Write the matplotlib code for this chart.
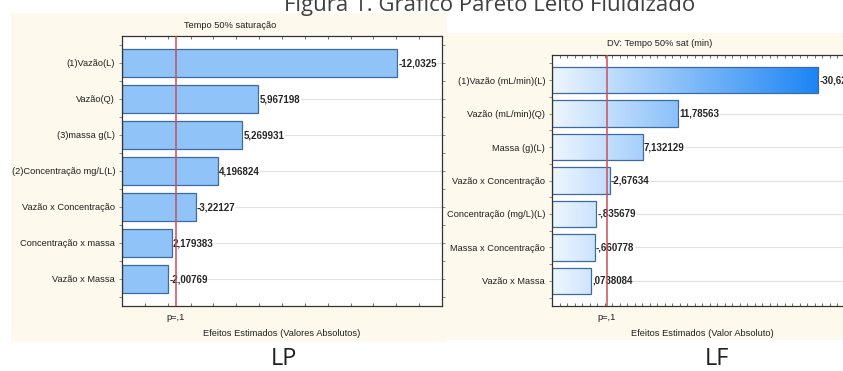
import numpy as np
import matplotlib
matplotlib.use("Agg")
import matplotlib.pyplot as plt
from matplotlib.patches import Rectangle
from matplotlib.colors import LinearSegmentedColormap
from matplotlib.ticker import MultipleLocator

# ---- data (LP and LF pareto charts) ----
lp_labels = ["(1)Vazão(L)", "Vazão(Q)", "(3)massa g(L)", "(2)Concentração mg/L(L)",
             "Vazão x Concentração", "Concentração x massa", "Vazão x Massa"]
lp_values = [12.0325, 5.967198, 5.269931, 4.196824, 3.22127, 2.179383, 2.00769]
lp_text = ["-12,0325", "5,967198", "5,269931", "4,196824", "-3,22127", "2,179383", "-2,00769"]
lp_pline = 2.353

lf_labels = ["(1)Vazão (mL/min)(L)", "Vazão (mL/min)(Q)", "Massa (g)(L)", "Vazão x Concentração",
             "Concentração (mg/L)(L)", "Massa x Concentração", "Vazão x Massa"]
lf_values = [35.5, 16.8, 12.1, 7.7, 5.9, 5.7, 5.2]
lf_text = ["-30,62", "11,78563", "7,132129", "-2,67634", "-,835679", "-,660778", ",0738084"]
lf_pline = 7.33

W, H = 843, 371
fig = plt.figure(figsize=(W / 100, H / 100), dpi=100)
fig.patch.set_facecolor("white")

cream = "#fdf9ec"
font = "Liberation Sans"
small = 6.7


def box(x0, y0, x1, y1):
    # pixel box (top-left origin) -> figure fraction rect
    return [x0 / W, 1 - y1 / H, (x1 - x0) / W, (y1 - y0) / H]


def px(x, y):
    return x / W, 1 - y / H


# cream panels behind the two statistica graphs
for b in [box(11, 13, 447, 342), box(447, 33, 900, 340)]:
    fig.patches.append(Rectangle((b[0], b[1]), b[2], b[3], transform=fig.transFigure,
                                 facecolor=cream, edgecolor="none", zorder=-10))


def pareto(ax, labels, values, texts, pline, xmax, bar_color=None, grad=None):
    n = len(labels)
    y = np.arange(n)
    ax.set_facecolor("white")
    for yy in y:
        ax.axhline(yy, color="#e0e0e0", lw=0.8, zorder=0)
    bars = ax.barh(y, values, height=0.8, color=bar_color if bar_color else "none",
                   edgecolor="#3d6aa3", linewidth=0.9, zorder=2)
    if grad is not None:
        cmap, gmax = grad
        g = np.linspace(0, 1, 256).reshape(1, -1)
        for b in bars:
            im = ax.imshow(g, extent=[0, gmax, b.get_y(), b.get_y() + b.get_height()],
                           aspect="auto", cmap=cmap, zorder=1.5, interpolation="bilinear")
            im.set_clip_path(b)
    for yy, v, t in zip(y, values, texts):
        ax.text(v + xmax * 0.004, yy, t, va="center", ha="left", fontsize=7,
                family=font, color="#252525", fontweight="bold", zorder=4,
                bbox=dict(facecolor="white", edgecolor="none", pad=0.3))
    ax.axvline(pline, color="#c8505a", lw=1.1, zorder=5)
    ax.set_xlim(0, xmax)
    ax.set_ylim(n - 0.25, -0.75)
    ax.set_yticks(y)
    ax.set_yticklabels(labels, fontsize=small, family=font, color="#202020")
    ax.yaxis.set_minor_locator(MultipleLocator(0.5))
    ax.set_xticks([pline])
    ax.set_xticklabels(["p=,1"], fontsize=small, family=font, color="#202020")
    ax.xaxis.set_minor_locator(MultipleLocator(1))
    ax.tick_params(axis="x", which="both", direction="in", top=True, length=2.5,
                   width=0.6, color="#555555", pad=5)
    ax.tick_params(axis="x", which="major", length=0)
    ax.tick_params(axis="y", which="both", direction="out", right=True, length=2,
                   width=0.6, color="#777777", pad=3)
    for s in ax.spines.values():
        s.set_color("#333333")
        s.set_linewidth(0.9)


# left graph (LP)
ax1 = fig.add_axes(box(122, 36, 442, 306))
pareto(ax1, lp_labels, lp_values, lp_text, lp_pline, 14, bar_color="#90c3f8")

# right graph (LF) - gradient bars
cm = LinearSegmentedColormap.from_list("lf", ["#eef6fe", "#1b84f4"])
ax2 = fig.add_axes(box(552, 55, 852, 306))
pareto(ax2, lf_labels, lf_values, lf_text, lf_pline, 40, grad=(cm, 35.5))

# graph titles and axis titles (statistica puts them inside the panel)
fig.text(*px(230, 25), "Tempo 50% saturação", ha="center", va="center",
         fontsize=small, family=font, color="#202020")
fig.text(*px(660, 43), "DV: Tempo 50% sat (min)", ha="center", va="center",
         fontsize=small, family=font, color="#202020")
fig.text(*px(282, 333), "Efeitos Estimados (Valores Absolutos)", ha="center", va="center",
         fontsize=small, family=font, color="#202020")
fig.text(*px(702, 333), "Efeitos Estimados (Valor Absoluto)", ha="center", va="center",
         fontsize=small, family=font, color="#202020")

# figure caption, cut at top edge of the screenshot
fig.text(*px(490, 11), "Figura 1. Gráfico Pareto Leito Fluidizado", ha="center",
         va="baseline", fontsize=16, family="Open Sans", color="#404040")

fig.text(*px(284, 359), "LP", ha="center", va="center", fontsize=17,
         family="Open Sans", color="#202020")
fig.text(*px(717, 359), "LF", ha="center", va="center", fontsize=17,
         family="Open Sans", color="#202020")

fig.savefig("out.png", dpi=100, facecolor="white")
